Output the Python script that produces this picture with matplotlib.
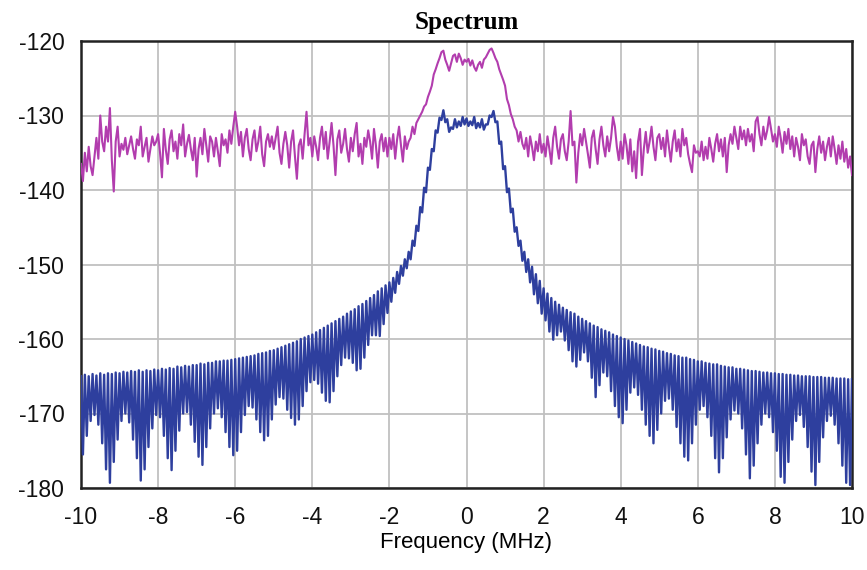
import numpy as np
import matplotlib
matplotlib.use('Agg')
import matplotlib.pyplot as plt

plt.rcParams['axes.unicode_minus'] = False

# ---- data (dB) ----
freq_start, freq_stop = -10.0, 10.0
x_ticks = [-10, -8, -6, -4, -2, 0, 2, 4, 6, 8, 10]
y_ticks = [-180, -170, -160, -150, -140, -130, -120]

# magenta trace, 0.05 MHz spacing from -10 to 10 MHz
magenta = [
    -136.5, -138.8, -135.0, -137.5, -134.2, -136.8, -138.0, -135.5, -133.0, -135.8, -130.0, -133.5, -134.8, -131.5, -133.5, -129.0, -136.0, -140.2, -133.5, -131.5,
    -135.5, -133.8, -134.6, -133.0, -135.2, -134.0, -132.8, -134.5, -135.8, -133.2, -134.0, -131.5, -135.5, -134.2, -133.0, -136.2, -134.5, -132.8, -134.0, -133.5,
    -132.5, -135.0, -138.3, -131.8, -134.6, -136.5, -133.2, -132.0, -134.8, -133.5, -135.8, -132.5, -134.0, -131.2, -135.5, -133.8, -132.6, -134.5, -136.0, -133.0,
    -138.2, -134.5, -133.0, -135.2, -131.8, -134.0, -136.2, -132.8, -133.5, -135.5, -133.0, -134.8, -136.8, -132.5, -134.0, -133.2, -135.0, -132.0, -133.8, -131.5,
    -129.5, -131.5, -134.0, -132.2, -135.5, -133.0, -131.8, -134.5, -136.0, -133.2, -132.0, -134.8, -133.5, -131.5, -135.2, -136.8, -133.5, -132.5, -134.2, -132.8,
    -134.5, -133.0, -131.5, -135.0, -136.5, -133.8, -132.2, -134.0, -137.0, -133.5, -132.0, -135.5, -138.5, -134.0, -133.2, -135.8, -132.5, -129.5, -134.0, -133.0,
    -135.5, -132.8, -134.2, -136.0, -133.0, -131.5, -134.5, -132.2, -135.8, -133.5, -131.0, -134.0, -138.0, -133.2, -132.0, -135.0, -133.8, -131.8, -134.5, -136.2,
    -133.0, -134.8, -132.5, -131.0, -135.5, -133.8, -136.5, -133.0, -134.2, -132.0, -133.5, -135.8, -131.8, -134.0, -137.0, -133.5, -132.5, -134.8, -133.0, -135.5,
    -133.0, -134.5, -132.5, -135.8, -133.2, -131.5, -134.0, -136.2, -132.8, -134.5, -133.5, -133.0, -131.5, -132.5, -131.0, -130.5, -130.0, -129.5, -128.8, -128.5,
    -127.5, -126.8, -126.0, -124.5, -123.8, -123.0, -122.3, -121.5, -121.3, -122.5, -123.2, -124.0, -123.0, -122.0, -121.8, -122.8, -121.7, -122.3, -123.2, -122.5,
    -122.8, -122.4, -123.3, -122.6, -123.5, -124.0, -123.2, -122.8, -123.6, -122.5, -122.2, -121.7, -121.2, -121.0, -121.6, -122.3, -122.8, -123.8, -124.5, -125.2,
    -126.0, -127.8, -128.6, -129.8, -130.5, -131.5, -132.0, -133.5, -132.2, -133.8, -134.5, -133.0, -135.5, -132.8, -134.2, -136.0, -133.5, -134.8, -132.5, -135.0,
    -133.8, -135.5, -132.8, -134.5, -136.5, -133.0, -131.5, -134.2, -135.8, -133.2, -132.5, -134.8, -136.0, -133.5, -129.4, -134.0, -133.5, -139.0, -135.0, -132.5,
    -134.0, -131.8, -133.5, -135.2, -137.0, -133.0, -132.0, -134.5, -136.5, -133.2, -131.5, -134.0, -135.5, -132.8, -134.8, -133.0, -130.2, -131.5, -134.2, -136.0,
    -133.5, -135.8, -132.5, -134.0, -136.5, -133.2, -137.5, -134.8, -138.4, -133.5, -131.8, -138.0, -134.5, -132.2, -135.0, -133.5, -131.5, -134.2, -136.0, -133.0,
    -132.5, -134.5, -133.0, -135.5, -132.0, -134.2, -136.2, -133.5, -132.0, -134.8, -133.2, -135.5, -131.8, -134.0, -133.0, -135.2, -136.5, -137.6, -134.0, -135.0,
    -134.8, -135.5, -133.5, -136.0, -134.2, -135.8, -133.0, -134.5, -136.2, -133.8, -132.5, -134.8, -133.2, -135.5, -133.0, -137.6, -134.0, -132.5, -133.8, -131.5,
    -133.0, -134.5, -131.5, -133.2, -132.0, -134.0, -131.8, -133.5, -132.5, -134.8, -130.8, -130.2, -132.5, -134.0, -131.5, -133.2, -132.0, -130.2, -131.8, -133.5,
    -132.5, -134.2, -131.5, -133.0, -135.0, -132.2, -133.8, -131.8, -134.5, -132.8, -135.5, -133.0, -134.2, -136.0, -132.5, -134.0, -133.2, -135.5, -136.5, -134.0,
    -133.5, -137.6, -134.5, -132.8, -135.0, -133.5, -136.0, -134.2, -133.0, -135.5, -132.8, -134.5, -136.5, -134.0, -135.8, -133.5, -136.2, -134.5, -137.0, -135.5,
    -138.0,
]

# blue trace: local maxima every 0.1 MHz (from -10 to 10)
blue_peak = [
    -165.0, -164.8, -165.0, -164.7, -164.9, -164.6, -164.8, -164.6, -164.7, -164.5,
    -164.6, -164.4, -164.5, -164.3, -164.4, -164.2, -164.4, -164.2, -164.3, -164.1,
    -164.2, -164.0, -164.1, -163.9, -164.0, -163.7, -163.8, -163.6, -163.7, -163.5,
    -163.5, -163.3, -163.4, -163.2, -163.2, -163.0, -163.0, -162.9, -162.9, -162.8,
    -162.7, -162.6, -162.5, -162.4, -162.3, -162.2, -162.0, -161.9, -161.8, -161.6,
    -161.5, -161.3, -161.1, -160.9, -160.7, -160.5, -160.3, -160.0, -159.8, -159.6,
    -159.4, -159.1, -158.8, -158.5, -158.2, -157.9, -157.6, -157.3, -157.0, -156.6,
    -156.3, -156.0, -155.6, -155.3, -154.9, -154.5, -154.1, -153.6, -153.2, -152.8,
    -152.4, -151.8, -151.0, -150.2, -149.3, -148.3, -146.8, -144.8, -142.3, -139.7,
    -137.0, -134.5, -132.0, -130.3, -129.3, -130.5, -131.6, -130.5, -130.8, -130.2,
    -130.4, -130.8, -130.2, -131.0, -130.5, -131.2, -130.0, -129.4, -130.8, -133.5,
    -136.8, -139.8, -142.5, -145.0, -146.8, -148.3, -149.3, -150.3, -151.3, -152.2,
    -153.2, -153.9, -154.5, -155.0, -155.4, -155.8, -156.1, -156.4, -156.6, -157.0,
    -157.3, -157.6, -157.9, -158.2, -158.4, -158.7, -158.9, -159.1, -159.4, -159.6,
    -159.8, -160.0, -160.2, -160.4, -160.6, -160.8, -161.0, -161.1, -161.3, -161.4,
    -161.6, -161.7, -161.9, -162.0, -162.2, -162.3, -162.5, -162.5, -162.7, -162.8,
    -163.0, -163.0, -163.2, -163.3, -163.4, -163.4, -163.6, -163.7, -163.8, -163.8,
    -164.0, -164.0, -164.1, -164.2, -164.3, -164.3, -164.4, -164.5, -164.5, -164.6,
    -164.6, -164.7, -164.7, -164.8, -164.8, -164.9, -164.9, -165.0, -165.0, -165.0,
    -165.1, -165.1, -165.1, -165.2, -165.2, -165.2, -165.3, -165.3, -165.3, -165.4,
    -165.4,
]

# blue trace: local minima midway between the maxima (-9.95 ... 9.95)
blue_trough = [
    -175.5, -173.0, -171.0, -170.2, -171.5, -174.0, -177.5, -179.3, -176.5, -173.5,
    -171.0, -170.0, -171.2, -173.5, -176.0, -179.0, -177.5, -174.5, -172.0, -170.2,
    -170.5, -173.0, -176.0, -177.6, -175.0, -172.3, -170.0, -169.8, -171.5, -173.8,
    -175.8, -176.9, -174.5, -172.0, -170.0, -169.3, -170.5, -172.5, -174.5, -175.6,
    -175.0, -172.5, -170.2, -169.0, -169.2, -170.8, -172.5, -173.6, -173.0, -170.8,
    -168.8, -167.8, -168.0, -169.5, -170.6, -171.5, -170.8, -169.0, -167.0, -165.8,
    -165.5, -166.0, -167.2, -168.3, -168.5, -167.0, -165.0, -163.5, -162.5, -162.6,
    -163.2, -164.2, -164.0, -162.5, -160.8, -159.5, -159.5, -159.6, -158.0, -156.5,
    -155.0, -153.8, -152.6, -151.5, -150.5, -149.3, -147.5, -145.5, -143.0, -140.3,
    -137.3, -134.8, -132.3, -130.6, -130.9, -132.2, -131.8, -131.6, -131.4, -131.2,
    -131.4, -131.3, -131.7, -131.6, -131.9, -131.2, -130.2, -130.9, -133.8, -137.2,
    -140.3, -143.0, -145.6, -147.5, -149.5, -151.0, -152.4, -154.0, -155.2, -156.6,
    -157.5, -159.0, -160.1, -159.5, -159.0, -160.2, -161.5, -163.0, -163.7, -162.8,
    -161.8, -163.0, -165.2, -167.8, -166.2, -164.5, -165.0, -167.0, -169.0, -170.5,
    -171.3, -169.5, -167.2, -166.5, -167.5, -169.5, -171.5, -173.0, -174.0, -172.2,
    -170.0, -168.3, -168.0, -169.5, -171.8, -174.0, -175.8, -176.3, -174.0, -171.5,
    -169.5, -169.0, -170.5, -173.0, -176.0, -177.9, -176.0, -173.2, -170.8, -169.6,
    -170.0, -172.0, -175.5, -178.7, -177.0, -174.0, -171.5, -170.0, -170.5, -172.5,
    -175.0, -178.5, -179.3, -176.5, -173.5, -171.0, -170.2, -171.8, -174.5, -177.8,
    -179.6, -176.5, -173.2, -171.0, -170.3, -171.5, -174.0, -177.0, -179.3, -179.6,
]

title_text = "Spectrum"
xlabel_text = "Frequency (MHz)"

# ---- build x coordinates ----
f_mag = np.linspace(freq_start, freq_stop, len(magenta))
f_peak = np.linspace(freq_start, freq_stop, len(blue_peak))
f_trough = f_peak[:-1] + (f_peak[1] - f_peak[0]) / 2.0
f_blue = np.empty(len(f_peak) + len(f_trough))
y_blue = np.empty_like(f_blue)
f_blue[0::2] = f_peak
f_blue[1::2] = f_trough
y_blue[0::2] = blue_peak
y_blue[1::2] = blue_trough

# ---- figure ----
fig = plt.figure(figsize=(8.67, 5.70), dpi=100)
ax = fig.add_axes([81 / 867, 1 - 488 / 570, (852 - 81) / 867, (488 - 41) / 570])

ax.plot(f_mag, magenta, color='#B23DAE', lw=1.5, zorder=3)
ax.plot(f_blue, y_blue, color='#2E3F9E', lw=1.7, zorder=3)

ax.set_xlim(freq_start, freq_stop)
ax.set_ylim(-180, -120)
ax.set_xticks(x_ticks)
ax.set_yticks(y_ticks)
ax.grid(True, color='#c0c0c0', lw=1.3)
ax.set_axisbelow(True)
for s in ax.spines.values():
    s.set_color('#222222')
    s.set_linewidth(1.8)

tick_font = {'family': 'Liberation Sans', 'size': 16}
ax.tick_params(length=0, colors='#111111')
ax.tick_params(axis='y', pad=12)
ax.tick_params(axis='x', pad=13)
for lab in ax.get_xticklabels() + ax.get_yticklabels():
    lab.set_fontfamily('Liberation Sans')
    lab.set_fontsize(16.5)

ax.set_xlabel(xlabel_text, fontdict=tick_font, labelpad=2)
ax.set_title(title_text, family='Liberation Serif', fontweight='bold', fontsize=18, pad=9)

fig.savefig('out.png', dpi=100)
